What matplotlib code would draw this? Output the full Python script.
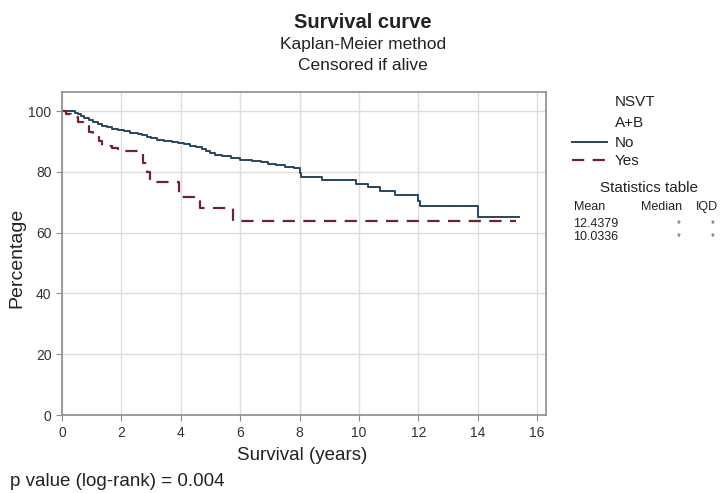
import matplotlib
matplotlib.use("Agg")
import matplotlib.pyplot as plt
from matplotlib.lines import Line2D

plt.rcParams['font.family'] = ['Liberation Sans Narrow', 'Liberation Sans', 'DejaVu Sans']

# Kaplan-Meier steps (years, percentage surviving)
no_t = [0, 0.45, 0.55, 0.65, 0.75, 0.9, 1.05, 1.2, 1.35, 1.5, 1.7, 1.9, 2.1, 2.3,
        2.55, 2.7, 2.85, 3.0, 3.2, 3.45, 3.7, 3.9, 4.1, 4.3, 4.5, 4.7, 4.85, 5.0,
        5.15, 5.4, 5.7, 6.0, 6.4, 6.7, 6.95, 7.2, 7.5, 7.8, 8.0, 8.05, 8.75, 9.9,
        10.3, 10.7, 11.2, 12.0, 12.05, 14.0, 15.4]
no_s = [100, 99.5, 99, 98.3, 97.8, 97, 96.4, 95.8, 95.2, 94.7, 94.2, 93.8, 93.3, 92.9,
        92.5, 92, 91.4, 91, 90.6, 90.2, 89.8, 89.4, 89, 88.6, 88.2, 87.5, 86.8, 86.2,
        85.6, 85.2, 84.5, 84, 83.6, 83.2, 82.6, 82.1, 81.7, 81.2, 79.5, 78.4, 77.4, 76.1,
        75.1, 73.8, 72.4, 70.5, 68.7, 65.1, 65.1]

yes_t = [0, 0.15, 0.3, 0.55, 0.7, 0.9, 1.05, 1.25, 1.35, 1.7, 1.9, 2.73, 2.85, 2.95,
         3.95, 4.65, 5.75, 15.3]
yes_s = [100, 99, 98, 96.5, 95, 93, 91.5, 90, 88.5, 88, 86.8, 83, 80, 76.6,
         71.7, 68.1, 63.7, 63.7]

groups = ["No", "Yes"]
means = ["12.4379", "10.0336"]
x_ticks = list(range(0, 17, 2))
y_ticks = list(range(0, 101, 20))

c_no = '#27465f'
c_yes = '#6e2430'
dash = (5.5, 3.8)

fig = plt.figure(figsize=(7.26, 4.93), dpi=100)
ax = fig.add_axes([0.0854, 0.158, 0.6666, 0.655])

ax.step(no_t, no_s, where='post', color=c_no, lw=1.4)
ax.step(yes_t, yes_s, where='post', color=c_yes, lw=1.6, dashes=dash)

ax.set_xlim(0, 16.3)
ax.set_ylim(0, 106.2)
ax.set_xticks(x_ticks)
ax.set_yticks(y_ticks)
ax.grid(True, color='#dddddd', lw=1)
ax.set_axisbelow(True)
for s in ax.spines.values():
    s.set_color('#8c8c8c')
    s.set_linewidth(1.2)
ax.tick_params(colors='#8c8c8c', labelcolor='#333333', labelsize=10, length=4)

W, H = 726, 493
def fx(px): return px / W
def fy(py): return 1 - py / H

# axis titles
fig.text(fx(302), fy(456), "Survival (years)", ha='center', va='center', fontsize=13.5,
         color='#222222')
fig.text(fx(17), fy(258), "Percentage", ha='center', va='center', rotation=90,
         fontsize=14, color='#222222')

# titles
fig.text(0.5, fy(23), "Survival curve", ha='center', va='center', fontsize=14.5,
         fontweight='bold', color='#222222')
fig.text(0.5, fy(45), "Kaplan-Meier method", ha='center', va='center', fontsize=12.5,
         color='#222222')
fig.text(0.5, fy(66), "Censored if alive", ha='center', va='center', fontsize=12.5,
         color='#222222')

# legend block
fig.text(fx(615), fy(102), "NSVT", ha='left', va='center', fontsize=11, color='#222222')
fig.text(fx(615), fy(123), "A+B", ha='left', va='center', fontsize=11, color='#222222')
fig.add_artist(Line2D([fx(572), fx(607)], [fy(142), fy(142)], color=c_no, lw=1.4))
fig.add_artist(Line2D([fx(572), fx(607)], [fy(160), fy(160)], color=c_yes, lw=1.6,
                      dashes=dash))
fig.text(fx(615), fy(143), groups[0], ha='left', va='center', fontsize=11, color='#222222')
fig.text(fx(615), fy(161), groups[1], ha='left', va='center', fontsize=11, color='#222222')

fig.text(fx(649), fy(188), "Statistics table", ha='center', va='center', fontsize=11,
         color='#222222')
fig.text(fx(574), fy(207), "Mean", ha='left', va='center', fontsize=9, color='#222222')
fig.text(fx(662), fy(207), "Median", ha='center', va='center', fontsize=9, color='#222222')
fig.text(fx(707), fy(207), "IQD", ha='center', va='center', fontsize=9, color='#222222')
for i, m in enumerate(means):
    yy = fy(224 + 13 * i)
    fig.text(fx(573), yy, m, ha='left', va='center', fontsize=9, color='#222222')
    fig.text(fx(679), yy, "*", ha='center', va='center', fontsize=7, color='#555555')
    fig.text(fx(713), yy, "*", ha='center', va='center', fontsize=7, color='#555555')

fig.text(fx(10), fy(481), "p value (log-rank) = 0.004", ha='left', va='center',
         fontsize=13.5, color='#222222')

fig.savefig("out.png", dpi=100)
